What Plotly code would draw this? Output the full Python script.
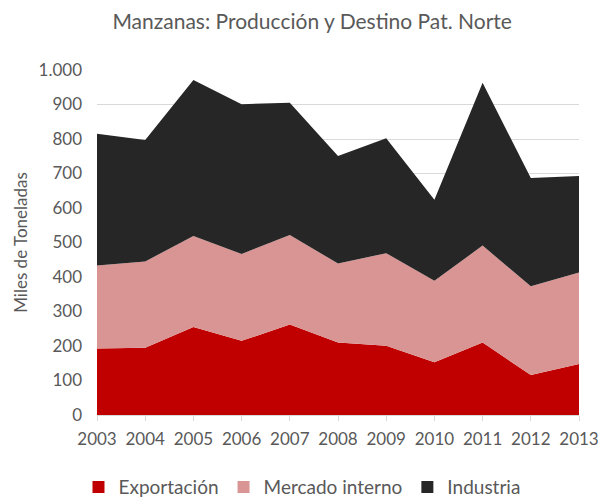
import plotly.graph_objects as go

years = [2003, 2004, 2005, 2006, 2007, 2008, 2009, 2010, 2011, 2012, 2013]
exportacion = [193, 195, 255, 215, 262, 210, 201, 153, 210, 116, 148]
mercado_interno = [240, 250, 264, 252, 260, 229, 268, 236, 281, 257, 265]
industria = [382, 352, 452, 434, 383, 312, 333, 235, 472, 314, 280]

y_ticks = [0, 100, 200, 300, 400, 500, 600, 700, 800, 900, 1000]
y_ticktext = ["0", "100", "200", "300", "400", "500", "600", "700", "800", "900", "1.000"]

series = [
    ("Exportación", exportacion, "#C00000"),
    ("Mercado interno", mercado_interno, "#D99594"),
    ("Industria", industria, "#262626"),
]

fig = go.Figure()
for name, vals, color in series:
    fig.add_trace(go.Scatter(
        x=years, y=vals, name=name, mode="lines",
        stackgroup="one", line=dict(width=0, color=color),
        fillcolor=color, showlegend=False,
    ))
# legend entries with square swatches
for name, vals, color in series:
    fig.add_trace(go.Scatter(
        x=[None], y=[None], name=name, mode="markers",
        marker=dict(symbol="square", size=12, color=color),
        showlegend=True,
    ))

font_family = "Lato, Open Sans, sans-serif"
fig.update_layout(
    width=598, height=497,
    paper_bgcolor="white", plot_bgcolor="white",
    margin=dict(l=97, r=19, t=70, b=82),
    font=dict(family=font_family, color="#595959", size=17),
    title=dict(text="Manzanas: Producción y Destino Pat. Norte",
               x=0.522, xanchor="center", xref="container", y=0.956, yanchor="middle",
               font=dict(size=21, color="#595959")),
    showlegend=True,
    legend=dict(orientation="h", xref="container", x=0.505, xanchor="center",
                yref="container", y=0.02, yanchor="middle",
                font=dict(size=19, color="#595959"), traceorder="normal",
                itemwidth=30),
    xaxis=dict(range=[2003, 2013], tickvals=years, ticks="outside", ticklen=5,
               tickcolor="#D9D9D9", showline=True, linecolor="#D9D9D9", linewidth=1,
               showgrid=False, zeroline=False, ticklabeloverflow="allow",
               automargin=False,
               ticklabelstandoff=4, tickfont=dict(size=17, color="#595959")),
    yaxis=dict(range=[0, 1000], tickvals=y_ticks, ticktext=y_ticktext,
               showgrid=True, gridcolor="#D9D9D9", gridwidth=1, zeroline=False,
               automargin=False,
               ticks="", ticklabelstandoff=14, tickfont=dict(size=17, color="#595959"),
               title=dict(text="Miles de Toneladas", font=dict(size=17, color="#595959"),
                          standoff=6)),
)

fig.write_html("out.html", config={"displayModeBar": False},
               post_script="document.body.style.margin='0';")
